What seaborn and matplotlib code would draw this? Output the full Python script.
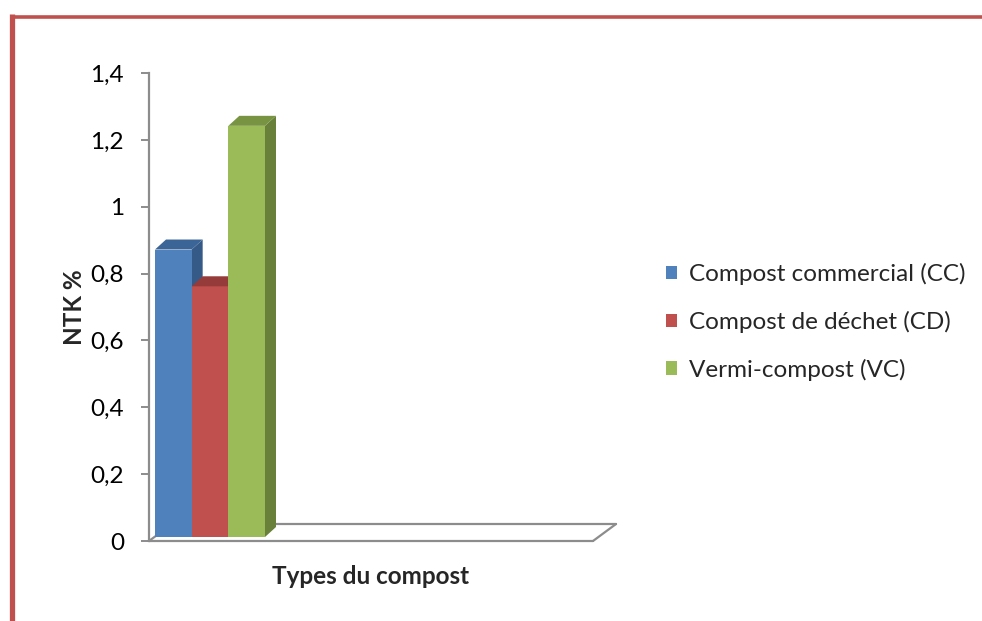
import matplotlib
matplotlib.use("Agg")
import matplotlib.pyplot as plt
from matplotlib.patches import Polygon, Rectangle
from matplotlib.lines import Line2D
import seaborn as sns
import pandas as pd

# ---- data ----
categories = ["Types du compost"]
series = ["Compost commercial (CC)", "Compost de déchet (CD)", "Vermi-compost (VC)"]
values = [0.86, 0.75, 1.23]
yticks = [0, 0.2, 0.4, 0.6, 0.8, 1.0, 1.2, 1.4]
ytick_labels = ["0", "0,2", "0,4", "0,6", "0,8", "1", "1,2", "1,4"]

front_colors = ["#4F81BD", "#C0504D", "#9BBB59"]
top_colors = ["#3C6597", "#953B39", "#789442"]
side_colors = ["#355A88", "#853432", "#68803A"]

sns.set_theme(style="white")
plt.rcParams["font.family"] = ["Lato", "DejaVu Sans"]

FS = 17.5
W, H, DPI = 982, 621, 100
fig = plt.figure(figsize=(W / DPI, H / DPI), dpi=DPI)
fig.patch.set_facecolor("white")

# axes geometry in pixels
ax_l, ax_r, ax_b, ax_t = 149, 593, 541, 73
ax = fig.add_axes([ax_l / W, (H - ax_b) / H, (ax_r - ax_l) / W, (ax_b - ax_t) / H])
ax.set_facecolor("none")

df = pd.DataFrame({"cat": categories * len(series), "type": series, "value": values})
sns.barplot(data=df, x="cat", y="value", hue="type", palette=front_colors,
            width=0.8, ax=ax, legend=False, saturation=1)

px_per_unit_x = 137.5
xmin = -0.4 - 1.0 / px_per_unit_x
xmax = xmin + (ax_r - ax_l) / px_per_unit_x
ax.set_xlim(xmin, xmax)
ax.set_ylim(0, 1.4)

# pixel -> data conversions
dxu = (xmax - xmin) / (ax_r - ax_l)
dyu = 1.4 / (ax_b - ax_t)

# floor (3D base)
fdx, fdy = 23 * dxu, 17 * dyu
gray = "#8C8C8C"
ax.add_line(Line2D([xmin, xmax], [0, 0], color=gray, lw=1.6, clip_on=False, zorder=1))
ax.add_line(Line2D([xmax, xmax + fdx], [0, fdy], color=gray, lw=1.6, clip_on=False, zorder=1))
ax.add_line(Line2D([xmin + fdx, xmax + fdx], [fdy, fdy], color=gray, lw=1.6, clip_on=False, zorder=1))
ax.add_line(Line2D([xmin, xmin + fdx], [0, fdy], color=gray, lw=1.6, clip_on=False, zorder=1))

# 3D bars: shift front faces into depth, add top and side faces
shift_x, shift_y = 5 * dxu, 4 * dyu
bdx, bdy = 11 * dxu, 10 * dyu
bars = [p for p in ax.patches if isinstance(p, Rectangle) and p.get_height() > 0]
bars = sorted(bars, key=lambda p: p.get_x())
for i, p in enumerate(bars):
    x0 = p.get_x() + shift_x
    w = p.get_width()
    h = p.get_height()
    p.set_x(x0)
    p.set_y(shift_y)
    p.set_edgecolor("none")
    p.set_zorder(3 + 0.1 * i)
    x1 = x0 + w
    y1 = shift_y + h
    top = Polygon([[x0, y1], [x1, y1], [x1 + bdx, y1 + bdy], [x0 + bdx, y1 + bdy]],
                  closed=True, facecolor=top_colors[i], edgecolor="none",
                  zorder=3 + 0.1 * i, clip_on=False)
    side = Polygon([[x1, shift_y], [x1, y1], [x1 + bdx, y1 + bdy], [x1 + bdx, shift_y + bdy]],
                   closed=True, facecolor=side_colors[i], edgecolor="none",
                   zorder=3 + 0.1 * i - 0.05, clip_on=False)
    ax.add_patch(side)
    ax.add_patch(top)

# axes styling
for s in ["top", "right", "bottom"]:
    ax.spines[s].set_visible(False)
ax.spines["left"].set_color(gray)
ax.spines["left"].set_linewidth(1.6)
ax.set_yticks(yticks)
ax.set_yticklabels(ytick_labels, fontsize=FS, color="black")
ax.tick_params(axis="y", length=6, width=1.4, color=gray, pad=12, left=True)
ax.set_xticks([])
ax.set_xlabel("Types du compost", fontsize=FS, fontweight="bold", labelpad=17)
ax.set_ylabel("NTK %", fontsize=FS, fontweight="bold", labelpad=3)

# legend
handles = [Rectangle((0, 0), 1, 1, facecolor=c, edgecolor="none") for c in front_colors]
fig.legend(handles, series, loc="center left", bbox_to_anchor=(644 / W, 1 - 322 / H),
           frameon=False, fontsize=FS, handlelength=0.45, handleheight=0.45,
           handletextpad=0.5, labelspacing=1.05)

# red border
red = "#C0504D"
fig.add_artist(Line2D([12 / W, 12 / W], [0, 1 - 14 / H], color=red, lw=3.8,
                      transform=fig.transFigure, solid_capstyle="butt"))
fig.add_artist(Line2D([10 / W, 1], [1 - 16.5 / H, 1 - 16.5 / H], color=red, lw=2.6,
                      transform=fig.transFigure, solid_capstyle="butt"))

fig.savefig("out.png", dpi=DPI, facecolor="white")
